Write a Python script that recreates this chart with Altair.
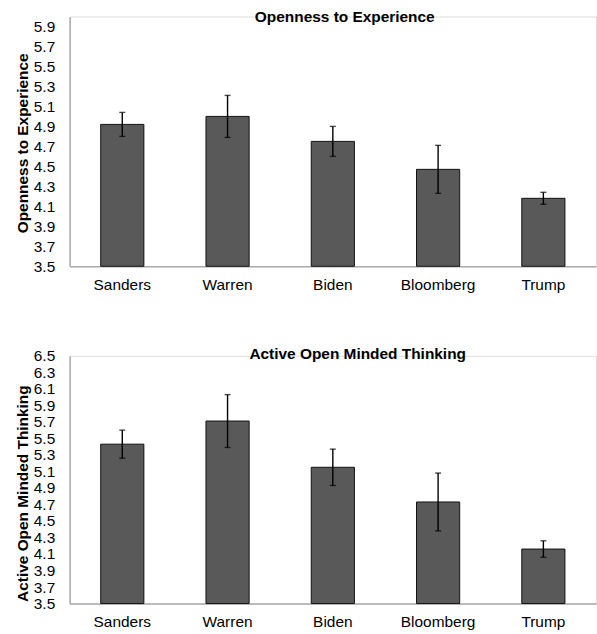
import altair as alt
import pandas as pd

# Candidates shown on the x axis of both panels
candidates = ["Sanders", "Warren", "Biden", "Bloomberg", "Trump"]

# Panel 1: Openness to Experience (means and error half-widths)
openness_mean = [4.92, 5.00, 4.75, 4.47, 4.18]
openness_err = [0.12, 0.21, 0.15, 0.24, 0.06]
openness_ticks = [3.5, 3.7, 3.9, 4.1, 4.3, 4.5, 4.7, 4.9, 5.1, 5.3, 5.5, 5.7, 5.9]

# Panel 2: Active Open Minded Thinking
aomt_mean = [5.43, 5.71, 5.15, 4.73, 4.16]
aomt_err = [0.17, 0.32, 0.22, 0.35, 0.10]
aomt_ticks = [3.5, 3.7, 3.9, 4.1, 4.3, 4.5, 4.7, 4.9, 5.1, 5.3, 5.5, 5.7, 5.9,
              6.1, 6.3, 6.5]

FONT = "Liberation Sans"
BAR_FILL = "#595959"
AXIS_GRAY = "#ababab"


def panel(title, means, errs, ticks, domain, height, title_dx, title_dy, y_title_y):
    df = pd.DataFrame({"candidate": candidates, "mean": means, "err": errs})
    df["lo"] = df["mean"] - df["err"]
    df["hi"] = df["mean"] + df["err"]

    x_axis = alt.Axis(
        title=None, labelAngle=0, ticks=False, tickSize=0, labelPadding=11,
        labelFontSize=15.5, labelFont=FONT, labelColor="#000000",
        domainColor=AXIS_GRAY, domainWidth=1.5, grid=False,
    )
    x_scale = alt.Scale(paddingInner=0.59, paddingOuter=0.295)
    y_scale = alt.Scale(domain=domain, nice=False, zero=False)
    y_axis = alt.Axis(
        title=title, values=ticks, format=".1f", ticks=False, tickSize=0,
        labelOverlap=False, labelPadding=15, labelFontSize=15.5, labelFont=FONT,
        labelColor="#000000",
        titleFont=FONT, titleFontSize=15.5, titleFontWeight="bold",
        titleColor="#000000", titlePadding=3, titleY=y_title_y,
        domainColor=AXIS_GRAY, domainWidth=1.5, grid=False,
    )

    def xe():
        return alt.X("candidate:N", sort=candidates, scale=x_scale, axis=x_axis)

    def ye(field):
        return alt.Y(field, type="quantitative", scale=y_scale, axis=y_axis)

    base = alt.Chart(df)
    # bars start at the bottom of the value axis, not at zero
    bars = base.mark_bar(fill=BAR_FILL, stroke="#111111", strokeWidth=1).encode(
        x=xe(), y=ye("mean"), y2=alt.datum(domain[0])
    )
    whisker = base.mark_rule(color="#000000", strokeWidth=1.4).encode(
        x=xe(), y=ye("lo"), y2="hi:Q"
    )
    cap_hi = base.mark_tick(color="#000000", thickness=1.4, size=6).encode(
        x=xe(), y=ye("hi")
    )
    cap_lo = base.mark_tick(color="#000000", thickness=1.4, size=6).encode(
        x=xe(), y=ye("lo")
    )
    return alt.layer(bars, whisker, cap_hi, cap_lo).properties(
        width=529,
        height=height,
        title=alt.TitleParams(
            text=title, font=FONT, fontSize=15.5, fontWeight="bold",
            color="#000000", anchor="middle", frame="group",
            dx=title_dx, dy=title_dy,
        ),
    )


top = panel("Openness to Experience", openness_mean, openness_err,
            openness_ticks, [3.5, 6.0], 251, 12, 13, 127)
bottom = panel("Active Open Minded Thinking", aomt_mean, aomt_err,
               aomt_ticks, [3.5, 6.5], 249, 25, 18, 138)

chart = (
    alt.vconcat(top, bottom, spacing=54)
    .properties(padding={"left": 14, "top": 8, "right": 0, "bottom": 0})
    .configure_axis(labelOverlap=False)
    .configure_view(stroke=None)
    .configure(background="#ffffff")
)

chart.save("out.html", embed_options={"renderer": "svg", "actions": False})
